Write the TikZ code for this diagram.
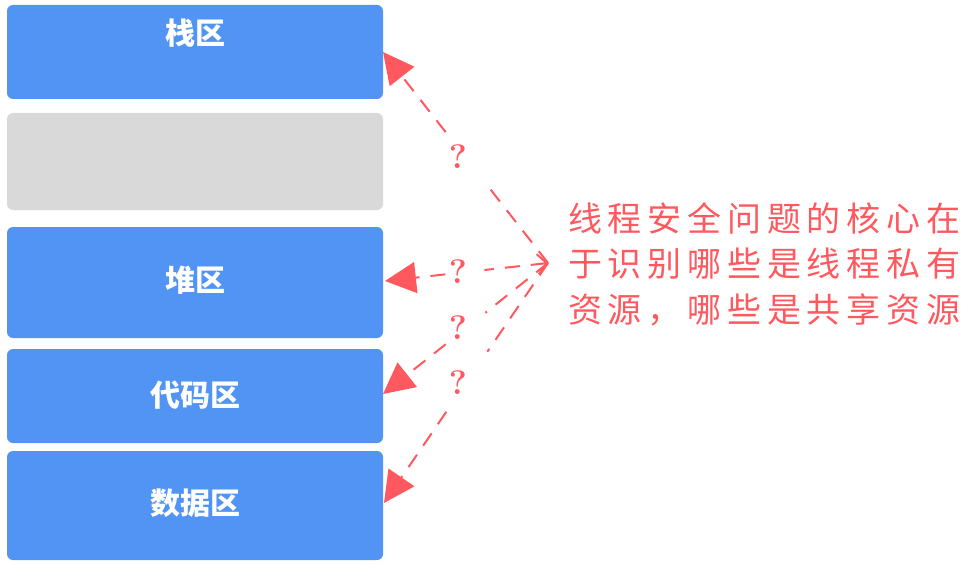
\documentclass[tikz,border=0pt]{standalone}
\usepackage{fontspec}
\newfontfamily\cjk{Noto Sans CJK SC}
\usetikzlibrary{arrows.meta,calc}
\definecolor{boxblue}{RGB}{82,148,243}
\definecolor{boxgray}{RGB}{217,217,217}
\definecolor{accent}{RGB}{255,88,94}
\tikzset{
 membox/.style={fill=boxblue, rounded corners=6pt, inner sep=0pt, minimum width=376pt},
 boxlabel/.style={text=white, font=\cjk\bfseries\fontsize{30}{30}\selectfont, inner sep=0pt},
 link/.style={draw=accent, line width=2pt, dash pattern=on 15pt off 11pt},
 tiptri/.style={-{Triangle[length=31pt,width=31pt]}},
 qmark/.style={text=accent, font=\bfseries\fontsize{34}{34}\selectfont, inner sep=0pt},
 note/.style={text=accent, font=\cjk\fontsize{34}{34}\selectfont\addfontfeature{LetterSpace=17}, anchor=west, inner sep=0pt}
}
\begin{document}
\begin{tikzpicture}[x=1pt,y=-1pt]
\useasboundingbox (0,0) rectangle (969,567);
% memory boxes
\node[membox, minimum height=94pt] (stack) at (195,52) {};
\node[membox, fill=boxgray, minimum height=97pt] (free) at (195,161.5) {};
\node[membox, minimum height=111pt] (heap) at (195,282.5) {};
\node[membox, minimum height=94pt] (code) at (195,396) {};
\node[membox, minimum height=109pt] (data) at (195,505.5) {};
% labels
\node[boxlabel] (stackl) at (195,33) {栈区};
\node[boxlabel] (heapl) at (195,280) {堆区};
\node[boxlabel] (codel) at (195,395) {代码区};
\node[boxlabel] (datal) at (195,503) {数据区};
% connector ends
\coordinate (o) at (548,263);
\coordinate (t1) at (383,52);
\coordinate (t2) at (385,281);
\coordinate (t3) at (383,394);
\coordinate (t4) at (384,503);
% connectors
\draw[link] (o) -- ($(o)!0.38!(t1)$);
\draw[link, tiptri] ($(o)!0.62!(t1)$) -- (t1);
\draw[link, {Straight Barb[length=9pt,width=20pt]}-] (o) -- ($(o)!0.39!(t2)$);
\draw[link, tiptri] ($(o)!0.63!(t2)$) -- (t2);
\draw[link] (o) -- ($(o)!0.38!(t3)$);
\draw[link, tiptri] ($(o)!0.62!(t3)$) -- (t3);
\draw[link] (o) -- ($(o)!0.37!(t4)$);
\draw[link, tiptri] ($(o)!0.62!(t4)$) -- (t4);
% question marks
\node[qmark] (q1) at (458,157) {?};
\node[qmark] (q2) at (458,272) {?};
\node[qmark] (q3) at (458,328) {?};
\node[qmark] (q4) at (458,383) {?};
% note
\node[note] (n1) at (568,218) {线程安全问题的核心在};
\node[note] (n2) at (568,264) {于识别哪些是线程私有};
\node[note] (n3) at (568,310) {资源，哪些是共享资源};
\end{tikzpicture}
\end{document}
